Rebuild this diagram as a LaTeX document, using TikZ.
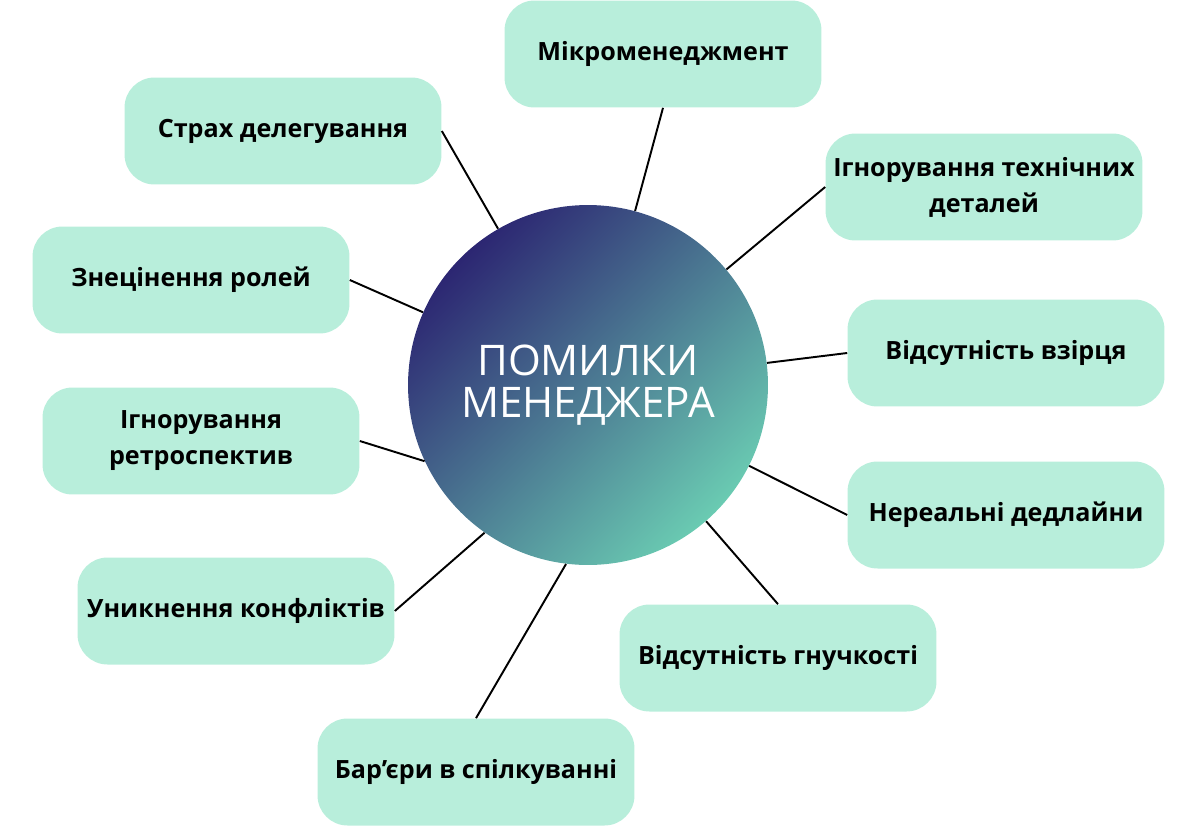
\documentclass[tikz,border=0pt]{standalone}
\usepackage{fontspec}
\setmainfont{Open Sans}
\usepackage{xcolor}
\usepackage{tikz}

\definecolor{mint}{HTML}{B8EEDB}
\definecolor{hubdark}{HTML}{2C2672}
\definecolor{hublight}{HTML}{6ACBB2}

\tikzset{
  issue/.style={fill=mint, rounded corners=0.6cm, minimum width=6.34cm,
    minimum height=2.14cm, align=center, text=black,
    font=\bfseries\fontsize{14.3}{20.5}\selectfont},
  spoke/.style={line width=1.1pt},
}

\begin{document}
\begin{tikzpicture}[x=0.02cm, y=-0.02cm]
            \useasboundingbox (0,0) rectangle (1200,829);

            \node[circle, minimum size=7.2cm, top color=hubdark, bottom color=hublight,
              shading angle=45, text=white, align=center,
              font=\fontsize{24}{24}\selectfont] (hub) at (588,385) {ПОМИЛКИ\\МЕНЕДЖЕРА};

            \node[issue] (micro) at (663,54) {Мікроменеджмент};
            \node[issue] (fear) at (283,131) {Страх делегування};
            \node[issue] (tech) at (984,187) {Ігнорування технічних\\деталей};
            \node[issue] (model) at (1006,353) {Відсутність взірця};
            \node[issue] (dead) at (1006,515) {Нереальні дедлайни};
            \node[issue] (flex) at (778,658) {Відсутність гнучкості};
            \node[issue] (talk) at (476,772) {Бар’єри в спілкуванні};
            \node[issue] (confl) at (236,611) {Уникнення конфліктів};
            \node[issue] (retro) at (201,441) {Ігнорування\\ретроспектив};
            \node[issue] (roles) at (191,280) {Знецінення ролей};

            \draw[spoke] (micro.south) -- (hub); % top
            \draw[spoke] (fear.east) -- (hub);
            \draw[spoke] (tech.west) -- (hub);
            \draw[spoke] (model.west) -- (hub);
            \draw[spoke] (dead.west) -- (hub);
            \draw[spoke] (flex.north) -- (hub);
            \draw[spoke] (talk.north) -- (hub.263); % bottom
            \draw[spoke] (confl.east) -- (hub.235);
            \draw[spoke] (retro.east) -- (hub.205);
            \draw[spoke] (roles.east) -- (hub);
        \end{tikzpicture}
\end{document}
